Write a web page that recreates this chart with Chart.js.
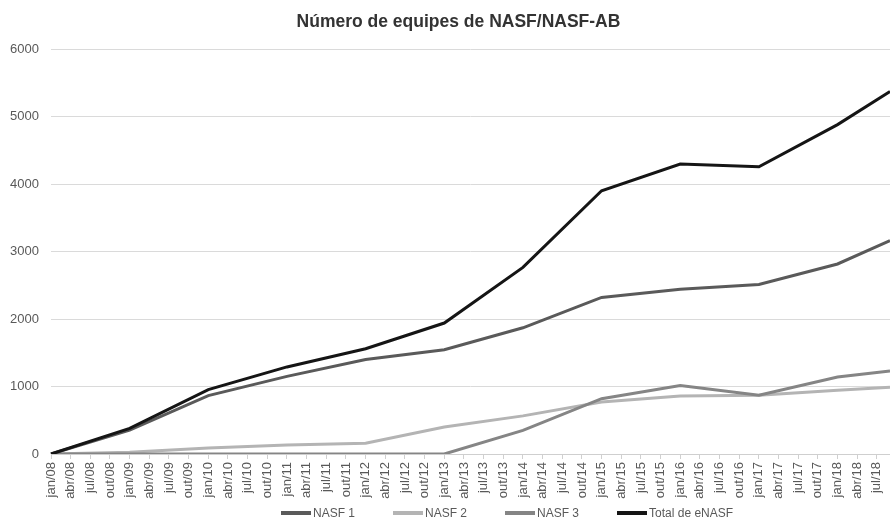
<!DOCTYPE html>
<html>
<head>
<meta charset="utf-8">
<script src="https://cdn.jsdelivr.net/npm/chart.js@4"></script>
<style>
    body { margin: 0; background: #fff; }
    .wrap { position: relative; width: 890px; height: 521px; }
    .title {
        position: absolute; left: 27px; top: 11px; width: 863px;
        text-align: center; font: bold 17.5px "Liberation Sans", Arial, sans-serif; color: #333;
    }
    .legend {
        position: absolute; left: 281px; top: 506px; display: flex; gap: 38px;
        font: 12px "Liberation Sans", Arial, sans-serif; color: #595959;
    }
    .legend span.item { display: flex; align-items: center; }
    .legend span.line { display: inline-block; width: 30px; height: 4px; margin-right: 2px; }
</style>
</head>
<body>
<div class="wrap">
    <canvas id="myChart" width="890" height="521"></canvas>
    <div class="title">Número de equipes de NASF/NASF-AB</div>
    <div class="legend"></div>
</div>
<script>
// month names (pt-BR) used for the category axis, jan/08 .. set/18
const monthNames = ['jan', 'fev', 'mar', 'abr', 'mai', 'jun', 'jul', 'ago', 'set', 'out', 'nov', 'dez'];
const months = [];
for (let y = 2008; y <= 2018; y++) {
    for (let m = 0; m < 12; m++) {
        if (y === 2018 && m > 8) break;
        months.push(monthNames[m] + '/' + String(y).slice(2));
    }
}

// Data points
const points = ['jan/08', 'jan/09', 'jan/10', 'jan/11', 'jan/12', 'jan/13', 'jan/14', 'jan/15', 'jan/16', 'jan/17', 'jan/18', 'set/18'];
const nasf1 = [0, 355, 865, 1150, 1400, 1545, 1870, 2320, 2440, 2510, 2815, 3160];
const nasf2 = [0, 25, 90, 135, 160, 400, 565, 770, 860, 870, 945, 990];
const nasf3 = [0, 0, 0, 0, 0, 0, 350, 820, 1015, 870, 1140, 1230];
const total = [0, 380, 955, 1290, 1560, 1940, 2765, 3900, 4295, 4255, 4880, 5370];

const names = ['NASF 1', 'NASF 2', 'NASF 3', 'Total de eNASF'];
const colors = ['#5a5a5a', '#b4b4b4', '#858585', '#151515'];
const series = [nasf1, nasf2, nasf3, total];
const drawOrder = [1, 3, 2, 0]; // total on top

const toXY = (vals) => vals.map((v, i) => ({ x: points[i], y: v }));

const datasets = series.map((vals, i) => ({
    label: names[i],
    data: toXY(vals),
    borderColor: colors[i],
    borderWidth: 3,
    pointRadius: 0,
    tension: 0,
    order: drawOrder[i]
}));

// html legend
const legend = document.querySelector('.legend');
names.forEach((n, i) => {
    legend.innerHTML += `<span class="item"><span class="line" style="background:${colors[i]}"></span>${n}</span>`;
});

const tickFont = { family: '"Liberation Sans", Arial, sans-serif', size: 13 };

const chart = new Chart('myChart', {
    type: 'line',
    data: { labels: months, datasets: datasets },
    options: {
        responsive: false,
        animation: false,
        layout: { padding: { top: 49, right: 0, bottom: 0, left: 0 } },
        plugins: {
            legend: { display: false },
            title: { display: false },
            tooltip: { enabled: false }
        },
        scales: {
            x: {
                offset: false,
                grid: { drawOnChartArea: false, color: '#d0d0d0', tickLength: 5 },
                border: { color: '#cfcfcf' },
                ticks: {
                    autoSkip: false,
                    maxRotation: 90,
                    minRotation: 90,
                    padding: 3,
                    color: '#595959',
                    font: tickFont,
                    callback: function (value, index) {
                        return index % 3 === 0 ? this.getLabelForValue(value) : null;
                    }
                },
                afterFit: (scale) => {
                    scale.height = 67;
                    scale.paddingLeft = 0;
                    scale.paddingRight = 0;
                }
            },
            y: {
                min: 0,
                max: 6000,
                ticks: {
                    stepSize: 1000, padding: 12, color: '#595959', font: tickFont,
                    callback: (v) => String(v)
                },
                grid: { color: '#dadada', drawTicks: false },
                border: { display: false },
                afterFit: (scale) => { scale.width = 51; }
            }
        }
    }
});
</script>
</body>
</html>
